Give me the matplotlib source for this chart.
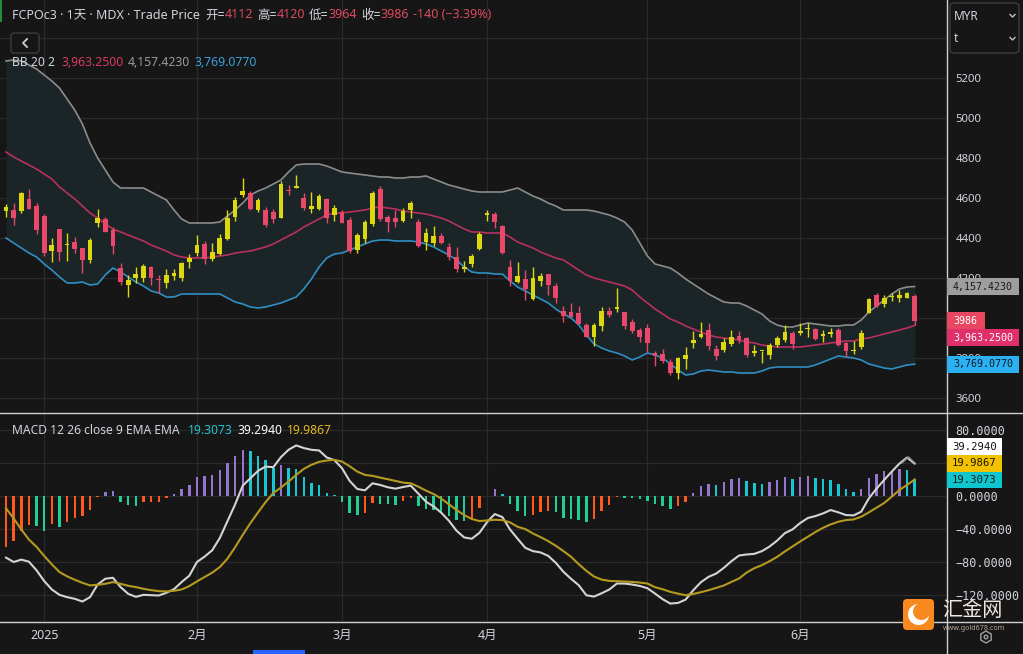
import numpy as np
import matplotlib
matplotlib.use('Agg')
import matplotlib.pyplot as plt
from matplotlib.patches import Rectangle, FancyBboxPatch, RegularPolygon, Circle
from matplotlib.lines import Line2D
from matplotlib.transforms import IdentityTransform

plt.rcParams['font.family'] = ['Noto Sans', 'Noto Sans CJK SC', 'DejaVu Sans']

# ---------------- data ----------------
opens = [4537,4540,4535,4595,4560,4510,4335,4445,4363,4380, 4350,4290,4475,4495,4440,4250,4165,4200,4200,4255,
         4195,4175,4210,4200,4280,4325,4370,4295,4320,4395, 4505,4615,4625,4540,4540,4530,4500,4635,4650,4600,
         4545,4545,4595,4515,4530,4490,4340,4395,4470,4645, 4505,4500,4485,4540,4480,4380,4375,4410,4355,4305,
         4245,4270,4345,4515,4520,4460,4255,4180,4195,4095, 4185,4220,4160,4035,4030,4025,3965,3905,3960,4035,
         4045,4030,3980,3940,3950,3825,3820,3780,3725,3795, 3875,3905,3940,3845,3840,3870,3910,3900,3825,3834,
         3815,3865,3890,3925,3925,3943,3945,3910,3920,3940, 3875,3835,3855,4025,4115,4070,4105,4100,4100,4112]
highs = [4570,4575,4630,4645,4573,4520,4400,4445,4425,4405, 4350,4400,4545,4505,4455,4275,4215,4255,4270,4260,
         4215,4245,4245,4280,4320,4415,4385,4375,4420,4540, 4605,4700,4635,4600,4555,4545,4685,4665,4715,4625,
         4630,4620,4600,4565,4540,4505,4425,4490,4635,4660, 4515,4540,4550,4585,4495,4450,4460,4425,4375,4355,
         4285,4320,4430,4540,4530,4465,4290,4280,4240,4255, 4225,4220,4175,4060,4075,4060,3975,3975,4055,4055,
         4150,4030,3995,3950,3970,3835,3845,3795,3805,3855, 3935,3980,3975,3865,3900,3940,3935,3905,3865,3835,
         3875,3910,3965,3935,3975,3975,3950,3940,3950,3950, 3880,3885,3940,4100,4125,4115,4125,4140,4130,4120]
lows = [4505,4465,4527,4545,4418,4310,4280,4285,4285,4325, 4225,4275,4455,4430,4320,4165,4105,4175,4180,4165,
        4125,4150,4190,4185,4250,4310,4270,4285,4315,4390, 4485,4605,4540,4530,4455,4475,4500,4615,4650,4540,
        4525,4540,4475,4485,4475,4325,4325,4375,4460,4485, 4430,4455,4480,4500,4355,4340,4360,4370,4290,4230,
        4230,4255,4340,4485,4450,4320,4160,4175,4090,4090, 4160,4115,4075,3980,4005,3970,3905,3860,3935,4005,
        4030,3945,3925,3880,3830,3760,3775,3715,3695,3745, 3850,3900,3840,3790,3830,3860,3875,3805,3810,3775,
        3795,3855,3880,3845,3915,3905,3890,3880,3905,3860, 3810,3820,3845,4025,4055,4055,4085,4080,4100,3964]
closes = [4557,4500,4625,4545,4440,4325,4365,4330,4365,4345, 4290,4390,4500,4430,4360,4180,4190,4220,4260,4200,
          4192,4215,4225,4275,4300,4365,4295,4330,4400,4500, 4590,4635,4545,4590,4465,4495,4670,4633,4660,4550,
          4560,4610,4500,4550,4475,4335,4415,4480,4625,4495, 4480,4480,4535,4575,4360,4425,4410,4375,4305,4245,
          4255,4310,4420,4525,4480,4325,4185,4210,4145,4200, 4210,4165,4100,4010,4005,3970,3905,3965,4035,4015,
          4055,3960,3935,3905,3875,3810,3785,3725,3800,3815, 3890,3920,3860,3810,3880,3905,3890,3815,3835,3835,
          3865,3900,3930,3870,3935,3945,3895,3920,3930,3865, 3835,3840,3925,4095,4060,4100,4110,4115,4125,3986]

bb_mid = [4830,4805,4785,4765,4745,4720,4695,4655,4625,4595, 4560,4525,4500,4470,4445,4430,4415,4400,4385,4365,
          4350,4335,4315,4305,4300,4300,4300,4305,4310,4315, 4325,4330,4335,4345,4355,4370,4390,4410,4430,4455,
          4475,4495,4515,4525,4525,4530,4535,4540,4550,4555, 4550,4545,4535,4530,4525,4520,4510,4500,4485,4465,
          4445,4430,4430,4425,4425,4425,4405,4380,4365,4350, 4330,4315,4300,4290,4265,4240,4215,4200,4190,4180,
          4170,4160,4140,4105,4075,4045,4020,3995,3980,3960, 3945,3930,3915,3905,3900,3895,3890,3880,3875,3865,
          3860,3855,3855,3855,3855,3860,3865,3870,3875,3880, 3885,3885,3895,3900,3910,3920,3930,3940,3950,3963.25]
bb_up = [5285,5290,5285,5265,5245,5215,5185,5150,5095,5040, 4970,4875,4800,4740,4680,4650,4650,4650,4650,4630,
         4610,4590,4540,4495,4475,4475,4475,4475,4480,4510, 4540,4575,4615,4635,4650,4670,4690,4730,4765,4770,
         4770,4770,4760,4745,4730,4725,4720,4715,4710,4705, 4705,4700,4700,4705,4705,4710,4695,4680,4665,4655,
         4645,4635,4630,4630,4630,4630,4640,4650,4630,4610, 4595,4575,4560,4540,4540,4540,4540,4535,4525,4515,
         4500,4480,4440,4375,4310,4270,4260,4250,4225,4195, 4170,4145,4120,4100,4080,4075,4075,4060,4040,4020,
         3985,3965,3955,3955,3965,3975,3970,3965,3960,3960, 3965,3965,3990,4030,4060,4090,4120,4145,4155,4157.423]
bb_low = [4400,4375,4350,4325,4305,4270,4240,4205,4175,4175, 4180,4165,4170,4215,4250,4230,4205,4180,4160,4135,
          4125,4105,4105,4120,4120,4120,4120,4120,4120,4100, 4080,4070,4055,4050,4055,4065,4075,4090,4105,4145,
          4195,4255,4300,4320,4325,4340,4355,4370,4385,4390, 4390,4385,4385,4385,4380,4370,4355,4335,4315,4290,
          4255,4230,4225,4225,4220,4220,4185,4155,4135,4115, 4095,4075,4045,4020,4000,3965,3915,3870,3850,3835,
          3825,3810,3790,3805,3825,3815,3800,3770,3740,3715, 3720,3735,3740,3735,3730,3730,3725,3725,3725,3735,
          3750,3755,3755,3755,3755,3755,3765,3780,3795,3810, 3805,3800,3790,3770,3760,3750,3745,3755,3765,3769.077]

macd_line = [-74.7,-80,-77.1,-79.6,-90.1,-103.1,-113.3,-119.8,-122.6,-124.6, -127.9,-122.6,-107.2,-100.3,-99.1,-110.4,-118.6,-122.2,-119.8,-120.2,
             -120.6,-117.3,-112.9,-104.3,-96.6,-80,-73.5,-65.8,-50.8,-30.5, -10.2,12.6,21.5,30.5,35.7,34.9,47.1,56,61.3,58.1,
             56,55.2,46.7,43.4,33.7,18.3,8.5,6.9,15.4,13.4, 10.6,8.9,10.9,12.6,2.8,-6.9,-12.6,-20.3,-30,-42.1,
             -50.2,-51.8,-44.6,-31.6,-21.9,-25.5,-40.5,-51.8,-62.8,-66.8, -68.4,-72.5,-81,-91.9,-100.4,-108.1,-120.3,-121.9,-117.9,-113.4,
             -106.1,-106.1,-107.3,-109,-111.8,-118.3,-125.1,-130.4,-129.6,-125.6, -114.2,-104.5,-98,-94,-87.1,-79,-72.1,-70.9,-70.1,-66.8,
             -61.2,-53.9,-45,-40.5,-32.8,-26.7,-24.3,-21.1,-17,-19.8, -23.1,-23.5,-19,-2.8,8.9,19.4,29.6,39.3,46.6,39.294]
signal_line = [-15,-27.2,-40.6,-52.8,-61.7,-72.7,-82.8,-92.2,-97.4,-101.5, -105.2,-108.4,-107.6,-106.4,-104.3,-106.4,-108.8,-110.4,-112.5,-114.1,
               -115.3,-115.7,-114.9,-113.3,-109.2,-103.5,-98.2,-92.9,-86.1,-75.9, -62.1,-47.1,-32.9,-19.9,-7.3,3.7,10.2,17.5,25.6,32.9,
               37.8,41.4,43,43.8,41.8,36.1,29.6,25.6,24.4,22.3, 20.3,18.3,16.2,15.4,11.3,6.5,2.4,-3.2,-10.1,-17,
               -23.1,-27.9,-30.4,-29.6,-28.8,-29.2,-32,-37.3,-40.1,-45.4, -49.8,-54.7,-60.3,-66.8,-73.7,-82.6,-90.7,-97.6,-101.3,-102.9,
               -103.3,-103.7,-104.1,-104.9,-106.1,-110.6,-113,-116.2,-118.3,-120.3, -118.7,-116.6,-114.2,-111.4,-108.5,-104.1,-100,-92.7,-87.5,-83.8,
               -79,-73.7,-67.2,-61.2,-55.1,-49.4,-43.7,-38.5,-34.4,-31.2, -29.2,-28.4,-25.1,-19.8,-14.2,-8.5,-0.8,7.3,13.4,19.9867]
hist_vals = [-62,-54,-42,-35.5,-36.5,-42,-34,-38,-32,-27, -24,-16.5,-1,5,5.5,-7,-11,-12.5,-7.7,-7,
             -6.8,-2,2.5,9,13.5,23,24.5,25.5,31.5,40, 49,56,54.6,49,44,34.5,37,34.5,33,23,
             15.7,13,3.6,1,-7.7,-21,-23,-21,-9,-9.8, -10,-10.3,-6,-2.5,-11.7,-16.2,-16.5,-19,-23.9,-29.6,
             -29.9,-27.1,-14.2,-0.5,8.5,2,-10.1,-18.2,-23.9,-23.1, -19,-18.2,-19.8,-26.3,-27.9,-29.6,-32,-27.9,-17.8,-10.9,
             -1.6,-2.8,-3,-4,-6.1,-9.7,-11.7,-15.8,-11.7,-7.7, 4,12.2,14.6,13.4,16.6,20.7,22.3,18.2,15.8,14.6,
             16.6,19,23.1,20.7,23.1,24.3,22.3,20.7,19,14.2, 8.5,4.5,8.5,22.3,26.7,30.4,30.8,32.8,31.6,19.3073]

month_pos = [5, 25, 44, 63, 84, 104]
month_lbl = ['2025', '2月', '3月', '4月', '5月', '6月']
price_ticks = [3600, 3800, 4000, 4200, 4400, 4600, 4800, 5000, 5200, 5400]
price_hidden = [4000, 5400]          # covered by tags / currency box in the reference
macd_ticks = [-120, -80, -40, 0, 40, 80]
macd_hidden = [40]

# ---------------- style ----------------
BG = '#161616'
GRID = '#2a2a2a'
UP = '#dcd80f'
DN = '#e9486a'
FILLC = '#1b2528'
C_UP_BAND = '#8c8c8c'
C_MID = '#b8305e'
C_LOW = '#2f8fc2'
TXT = '#d1d4dc'
RED = '#dc4a60'
H_PUR, H_CYA, H_ORG, H_GRN = '#9575cd', '#16c6d2', '#ff5a1e', '#1fcf98'
C_MACD = '#d4d4d4'
C_SIG = '#b59a20'

W, H = 1023, 654
fig = plt.figure(figsize=(W / 100, H / 100), dpi=100)
fig.patch.set_facecolor(BG)
ID = IdentityTransform()

ax = fig.add_axes([0, (H - 412) / H, 946 / W, 412 / H])
ax2 = fig.add_axes([0, (H - 621) / H, 946 / W, 208 / H])
for a in (ax, ax2):
    a.set_facecolor(BG)
    for s in a.spines.values():
        s.set_visible(False)
    a.set_xlim(-0.79, 123.1)
    a.set_xticks(month_pos)
    a.grid(True, color=GRID, lw=0.9)
    a.set_axisbelow(True)
    a.yaxis.tick_right()
    a.tick_params(axis='both', length=0, colors=TXT)

x = np.arange(len(closes))
o = np.array(opens, float); hi = np.array(highs, float)
lo = np.array(lows, float); c = np.array(closes, float)
colr = np.where(c >= o, UP, DN)

ax.fill_between(x, bb_up, bb_low, color=FILLC, lw=0, zorder=1)
ax.plot(x, bb_up, color=C_UP_BAND, lw=1.2, zorder=2)
ax.plot(x, bb_mid, color=C_MID, lw=1.2, zorder=2)
ax.plot(x, bb_low, color=C_LOW, lw=1.2, zorder=2)
ax.vlines(x, lo, hi, colors=colr, lw=1.0, zorder=3)
ax.bar(x, np.maximum(np.abs(c - o), 5), bottom=np.minimum(o, c), width=0.62,
       color=colr, lw=0, zorder=4)
ax.set_ylim(3530, 5590)
ax.set_yticks(price_ticks)
ax.set_yticklabels(['' if t in price_hidden else str(t) for t in price_ticks])
ax.tick_params(axis='y', pad=7, labelsize=8.2)
ax.set_xticklabels([])

hist = np.array(hist_vals)
prev = np.concatenate([[hist[0]], hist[:-1]])
rising = hist >= prev
hcol = np.where(hist >= 0, np.where(rising, H_PUR, H_CYA), np.where(rising, H_ORG, H_GRN))
ax2.bar(x, hist, width=0.32, color=hcol, lw=0, zorder=2)
ax2.plot(x, macd_line, color=C_MACD, lw=1.5, zorder=3)
ax2.plot(x, signal_line, color=C_SIG, lw=1.5, zorder=3)
ax2.set_ylim(-151.5, 100.6)
ax2.set_yticks(macd_ticks)
ax2.set_yticklabels(['' if t in macd_hidden else f"{t:.4f}".replace('-', '\u2212') for t in macd_ticks])
ax2.tick_params(axis='y', pad=7, labelsize=8.5, labelfontfamily='DejaVu Sans Mono')
ax2.set_xticklabels(month_lbl)
ax2.tick_params(axis='x', pad=6, labelsize=9)
ax2.get_xticklabels()[0].set_fontweight('bold')

# frame lines
fig.add_artist(Line2D([946.5, 946.5], [0, H], color='#cfcfcf', lw=1, transform=ID))
fig.add_artist(Line2D([0, W], [H - 412.5, H - 412.5], color='#cfcfcf', lw=1, transform=ID))
fig.add_artist(Line2D([0, W], [H - 621.5, H - 621.5], color='#cfcfcf', lw=1, transform=ID))

renderer = fig.canvas.get_renderer()

def seq(x0, yc, parts, size, family=None):
    xx = x0
    for s, col, gap in parts:
        kw = {}
        if family:
            kw['family'] = family
        t = fig.text(xx, H - yc, s, color=col, fontsize=size, ha='left', va='center',
                     transform=ID, **kw)
        xx += t.get_window_extent(renderer).width + gap

seq(12, 15, [("FCPOc3 · 1天 · MDX · Trade Price", TXT, 5),
             ("开=", TXT, 0), ("4112", RED, 4), ("高=", TXT, 0), ("4120", RED, 4),
             ("低=", TXT, 0), ("3964", RED, 4), ("收=", TXT, 0), ("3986", RED, 4),
             ("-140 (\u22123.39%)", RED, 0)], 9.0)
seq(12, 62, [("BB 20 2", TXT, 7), ("3,963.2500", '#d53a62', 4),
             ("4,157.4230", '#9a9a9a', 4), ("3,769.0770", '#3aa2dc', 0)], 8.8)
seq(12, 430, [("MACD 12 26 close 9 EMA EMA", TXT, 8), ("19.3073", '#20c4cc', 5),
              ("39.2940", '#ffffff', 5), ("19.9867", '#e2b81e', 0)], 8.7)

# "<" button
fig.add_artist(FancyBboxPatch((11, H - 53), 28, 20, boxstyle='round,pad=0,rounding_size=3',
                              fc=BG, ec='#3c3c3c', lw=1, transform=ID))
fig.add_artist(Line2D([27, 23, 27], [H - 39, H - 43, H - 47], color='#d0d0d0', lw=1.3, transform=ID))

# MYR box
fig.add_artist(FancyBboxPatch((950, H - 53), 69, 50, boxstyle='round,pad=0,rounding_size=4',
                              fc=BG, ec='#3c3c3c', lw=1, transform=ID, zorder=5))
fig.text(954, H - 16, 'MYR', color=TXT, fontsize=8.5, ha='left', va='center', transform=ID, zorder=6)
fig.text(954, H - 39, 't', color=TXT, fontsize=8.5, ha='left', va='center', transform=ID, zorder=6)
for yy in (16, 39):
    fig.add_artist(Line2D([1010, 1012.5, 1015], [H - yy + 1.5, H - yy - 1, H - yy + 1.5],
                          color='#c0c0c0', lw=1, transform=ID, zorder=6))

# value tags
def tag(yc_top, text, bg, fg, x0, w, size):
    hh = 16.7
    fig.add_artist(Rectangle((x0, H - yc_top - hh / 2), w, hh, fc=bg, ec='none',
                             transform=ID, zorder=7))
    fig.text(x0 + w / 2, H - yc_top, text, color=fg, fontsize=size, ha='center', va='center',
             family='DejaVu Sans Mono', transform=ID, zorder=8)

def ytop(axis, v):
    return H - axis.transData.transform((0, v))[1]

y_up = ytop(ax, bb_up[-1]); y_c = ytop(ax, closes[-1]); y_lo = ytop(ax, bb_low[-1])
tag(y_up, '4,157.4230', '#9e9e9e', '#1a1a1a', 947, 72, 7.2)
tag(y_c, str(closes[-1]), '#e8475f', '#ffffff', 947, 37.5, 7.2)
tag(y_c + 16.7, '3,963.2500', '#e0306a', '#ffffff', 947, 72, 7.2)
tag(y_lo, '3,769.0770', '#2bb0f2', '#0d1a26', 947, 72, 7.2)

y_h = ytop(ax2, hist_vals[-1])
tag(y_h, '19.3073', '#0fc6cf', '#0d1a1a', 947, 55, 7.7)
tag(y_h - 16.7, '19.9867', '#f2c200', '#1a1400', 947, 55, 7.7)
tag(y_h - 33.4, '39.2940', '#ffffff', '#111111', 947, 55, 7.7)

# small chevron in MACD pane
fig.add_artist(Line2D([902, 908.5, 915], [H - 463, H - 457, H - 463], color='#8a8a8a', lw=1, transform=ID))

# logo
fig.add_artist(FancyBboxPatch((903, H - 630), 31, 31, boxstyle='round,pad=0,rounding_size=4',
                              fc='#f7891f', ec='none', transform=ID, zorder=6))
fig.add_artist(Circle((918.5, H - 614.5), 10.5, fc='#ffffff', ec='none', transform=ID, zorder=7))
fig.add_artist(Circle((921.5, H - 611.5), 8.5, fc='#f7891f', ec='none', transform=ID, zorder=8))
fig.text(942, H - 611, '汇金网', color='#f0e8e0', fontsize=14.5, ha='left', va='center',
         family=['Noto Sans CJK SC'], transform=ID, zorder=7)
fig.text(943, H - 628, 'www.gold678.com', color='#b8a898', fontsize=5.2, ha='left', va='center',
         transform=ID, zorder=7)
fig.add_artist(RegularPolygon((986, H - 637), 6, radius=6, fc='none', ec='#a0a0a0', lw=1,
                              transform=ID, zorder=7))
fig.add_artist(Circle((986, H - 637), 1.8, fc='none', ec='#a0a0a0', lw=1, transform=ID, zorder=7))

# scroll indicator & left marks
fig.add_artist(Rectangle((253, 0), 52, 4, fc='#2962ff', ec='none', transform=ID))
fig.add_artist(Rectangle((0, H - 22), 1.5, 22, fc='#1f8f3c', ec='none', transform=ID))

fig.savefig('out.png', dpi=100, facecolor=BG)
